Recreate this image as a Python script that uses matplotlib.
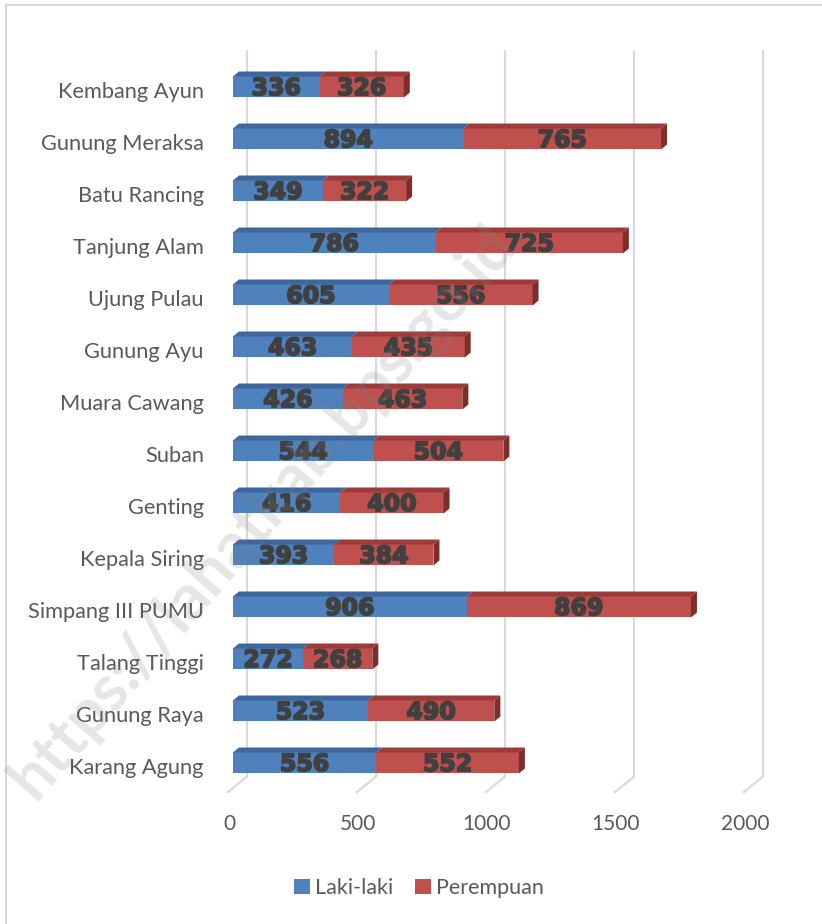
import numpy as np
import matplotlib.pyplot as plt
import matplotlib.transforms as mtransforms
import matplotlib.patheffects as pe
from matplotlib.patches import Polygon, Rectangle, Patch

# data (top to bottom as in the chart)
desa = [
    "Kembang Ayun", "Gunung Meraksa", "Batu Rancing", "Tanjung Alam",
    "Ujung Pulau", "Gunung Ayu", "Muara Cawang", "Suban", "Genting",
    "Kepala Siring", "Simpang III PUMU", "Talang Tinggi", "Gunung Raya",
    "Karang Agung",
]
laki = [336, 894, 349, 786, 605, 463, 426, 544, 416, 393, 906, 272, 523, 556]
perempuan = [326, 765, 322, 725, 556, 435, 463, 504, 400, 384, 869, 268, 490, 552]
xticks = [0, 500, 1000, 1500, 2000]

W, H = 822, 924
fig = plt.figure(figsize=(W / 100, H / 100), dpi=100)

# pixel geometry of the plot box
PXU = 1 / 0.258      # data units per horizontal pixel
ROW = 52.0           # pixels per category
y0 = 87.0            # pixel row of first category
ax_l, ax_r, ax_t, ax_b = 233, 800, 40, 800
ax = fig.add_axes([ax_l / W, 1 - ax_b / H, (ax_r - ax_l) / W, (ax_b - ax_t) / H])
ax.set_xlim(0, (ax_r - ax_l) * PXU)
ax.set_ylim((ax_b - y0) / ROW, (ax_t - y0) / ROW)
for s in ax.spines.values():
    s.set_visible(False)

y = np.arange(len(desa))
bh = 21 / ROW                 # front face height
ddx, ddy = 6 * PXU, 5 / ROW   # bar depth

blue, blue_top = "#4f81bd", "#3d679b"
red, red_top, red_side = "#c0504d", "#9c3c3a", "#7e2d2b"

# back wall grid + floor lines
wall_dx = 13.5 * PXU
y_top, y_wall, y_floor = (50 - y0) / ROW, (777 - y0) / ROW, (792 - y0) / ROW
for v in xticks:
    ax.plot([v + wall_dx, v + wall_dx], [y_top, y_wall], color="#d9d9d9", lw=1.6,
            zorder=1, clip_on=False, solid_capstyle="butt")
    ax.plot([v + wall_dx, v - 5 * PXU], [y_wall, y_floor], color="#d9d9d9", lw=1.6,
            zorder=1, clip_on=False)


def bar3d(left, width, yc, front, top, side=None):
    yt = yc - bh / 2
    yb = yc + bh / 2
    ax.add_patch(Rectangle((left, yt), width, bh, facecolor=front, edgecolor="none", zorder=3))
    ax.add_patch(Polygon([(left, yt), (left + ddx, yt - ddy), (left + width + ddx, yt - ddy),
                          (left + width, yt)], closed=True, facecolor=top, edgecolor="none", zorder=3))
    if side is not None:
        ax.add_patch(Polygon([(left + width, yt), (left + width + ddx, yt - ddy),
                              (left + width + ddx, yb - ddy), (left + width, yb)], closed=True,
                             facecolor=side, edgecolor="none", zorder=3))


heavy = [pe.withStroke(linewidth=1.3, foreground="#404040")]
for i in range(len(desa)):
    bar3d(0, laki[i], y[i], blue, blue_top)
    bar3d(laki[i], perempuan[i], y[i], red, red_top, red_side)
    ax.text(laki[i] / 2, y[i] + 0.02, str(laki[i]), ha="center", va="center",
            fontsize=17, fontweight="bold", color="#404040", zorder=4, path_effects=heavy)
    ax.text(laki[i] + perempuan[i] / 2, y[i] + 0.02, str(perempuan[i]), ha="center",
            va="center", fontsize=17, fontweight="bold", color="#404040", zorder=4,
            path_effects=heavy)

# axes labels
ax.set_yticks(y)
ax.set_yticklabels(desa, fontsize=15.7, color="#595959", family="Lato")
ax.tick_params(axis="y", length=0, pad=21)
down = mtransforms.ScaledTranslation(0, -3 / 100, fig.dpi_scale_trans)
for lab in ax.get_yticklabels():
    lab.set_transform(lab.get_transform() + down)
ax.set_xticks(xticks)
ax.set_xticklabels([str(v) for v in xticks], fontsize=15, color="#595959", family="Lato")
ax.tick_params(axis="x", length=0, pad=10)
shift = mtransforms.ScaledTranslation(-4 / 100, 0, fig.dpi_scale_trans)
for lab in ax.get_xticklabels():
    lab.set_transform(lab.get_transform() + shift)

# legend
handles = [Patch(facecolor=blue, label="Laki-laki"), Patch(facecolor=red, label="Perempuan")]
fig.legend(handles=handles, loc="center", bbox_to_anchor=(419 / W, 1 - 888 / H), ncol=2,
           frameon=False, handlelength=0.75, handleheight=0.75, handletextpad=0.25,
           columnspacing=1.0, prop={"family": "Lato", "size": 15.5}, labelcolor="#595959")

# chart frame
fig.add_artist(Rectangle((5.5 / W, -0.1), 1.2, 1 - 5.5 / H + 0.1, transform=fig.transFigure,
                         facecolor="none", edgecolor="#d9d9d9", lw=1.5))

# watermark
fig.text(262 / W, 1 - 512 / H, "https://lahatkab.bps.go.id", rotation=49, ha="center",
         va="center", fontsize=46, fontweight="bold", family="Lato", color="#808080",
         alpha=0.2, zorder=10)

fig.savefig("out.png", dpi=100)
